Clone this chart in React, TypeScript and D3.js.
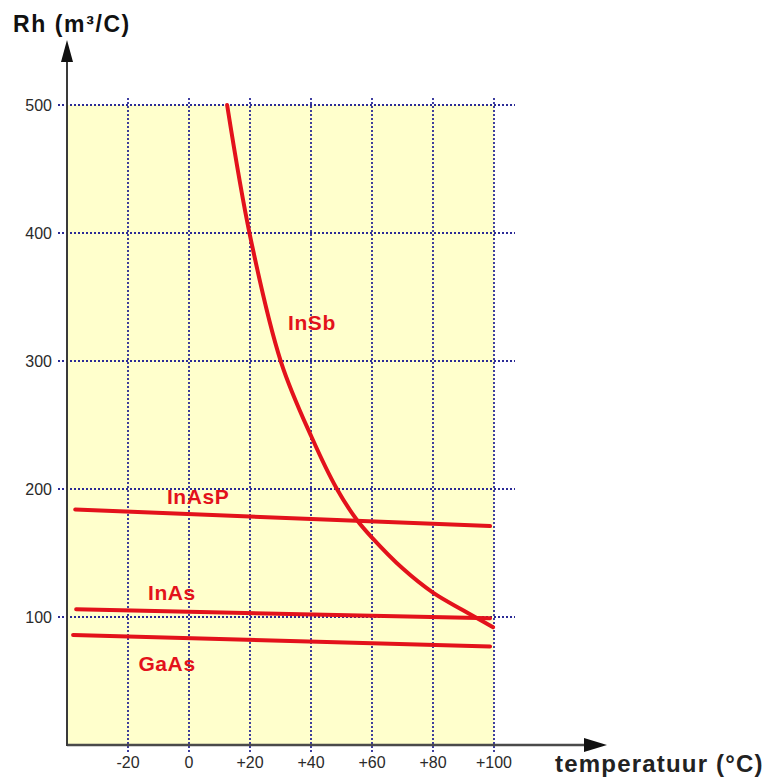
import React from "react";
import * as d3 from "d3";

const xTicks = [-20, 0, 20, 40, 60, 80, 100];
const xTickLabels = ["-20", "0", "+20", "+40", "+60", "+80", "+100"];
const yTicks = [100, 200, 300, 400, 500];
const yTickLabels = ["100", "200", "300", "400", "500"];

const insbT = [12.5, 20, 30.2, 40.3, 48.5, 55, 60, 70, 80, 90, 99.7];
const insbR = [500, 398, 299, 240, 200, 176, 162, 138, 119, 105, 92];
const inaspT = [-37.3, 98.7];
const inaspR = [184, 171];
const inasT = [-37, 98.7];
const inasR = [106, 99];
const gaasT = [-38, 98.7];
const gaasR = [86, 77];

const seriesNames = ["InSb", "InAsP", "InAs", "GaAs"];
const labelT = [40.3, 3, -5.6, -7.2];
const labelR = [330, 194, 119, 64];

export default function App() {
  const W = 770, H = 780;
  const x = d3.scaleLinear().domain([-40, 100]).range([67, 494]);
  const y = d3.scaleLinear().domain([0, 500]).range([745, 105]);
  const red = "#e3121b";
  const grid = "#2b2b96";
  const line = d3
    .line<[number, number]>()
    .x((d) => x(d[0]))
    .y((d) => y(d[1]));
  const smooth = d3
    .line<[number, number]>()
    .x((d) => x(d[0]))
    .y((d) => y(d[1]))
    .curve(d3.curveCatmullRom.alpha(0.5));
  const zip = (a: number[], b: number[]) => a.map((v, i) => [v, b[i]] as [number, number]);
  const straight = [zip(inaspT, inaspR), zip(inasT, inasR), zip(gaasT, gaasR)];
  const font = "'Liberation Sans', Arial, sans-serif";

  return (
    <svg
      width={W}
      height={H}
      style={{ position: "absolute", left: 0, top: 0, display: "block", background: "#fff" }}
    >
      <rect x={x(-40)} y={y(500)} width={x(100) - x(-40)} height={y(0) - y(500)} fill="#ffffcc" />
      {yTicks.map((t) => (
        <line key={"h" + t} x1={58} x2={515} y1={y(t)} y2={y(t)} stroke={grid} strokeWidth={1.8} strokeDasharray="2,2" />
      ))}
      {xTicks.map((t) => (
        <line key={"v" + t} x1={x(t)} x2={x(t)} y1={98} y2={753} stroke={grid} strokeWidth={1.8} strokeDasharray="2,2" />
      ))}
      {/* axes */}
      <line x1={x(-40)} x2={595} y1={y(0)} y2={y(0)} stroke="#4a4a4a" strokeWidth={2.5} />
      <line x1={x(-40)} x2={x(-40)} y1={y(0) + 1} y2={55} stroke="#3a3a3a" strokeWidth={2} />
      <path d={`M${x(-40)},40 L${x(-40) - 6},62 L${x(-40) + 6},62 Z`} fill="#111" />
      <path d={`M607,${y(0)} L584,${y(0) - 7} L584,${y(0) + 7} Z`} fill="#111" />
      {yTicks.map((t, i) => (
        <text key={"yl" + t} x={52} y={y(t)} textAnchor="end" dominantBaseline="central" fontFamily={font} fontSize={16} fill="#2a2a2a">
          {yTickLabels[i]}
        </text>
      ))}
      {xTicks.map((t, i) => (
        <text key={"xl" + t} x={x(t)} y={762} textAnchor="middle" dominantBaseline="central" fontFamily={font} fontSize={16} fill="#2a2a2a">
          {xTickLabels[i]}
        </text>
      ))}
      <text x={13} y={32} fontFamily={font} fontSize={23} fontWeight="bold" fill="#111" letterSpacing={1.6}>
        Rh (m³/C)
      </text>
      <text x={555} y={772} fontFamily={font} fontSize={24} fontWeight="bold" fill="#222" letterSpacing={1.2}>
        temperatuur (°C)
      </text>
      {/* curves */}
      <path d={smooth(zip(insbT, insbR)) || ""} fill="none" stroke={red} strokeWidth={4} strokeLinecap="round" />
      {straight.map((s, i) => (
        <path key={"s" + i} d={line(s) || ""} fill="none" stroke={red} strokeWidth={4} strokeLinecap="round" />
      ))}
      {seriesNames.map((n, i) => (
        <text key={n} x={x(labelT[i])} y={y(labelR[i])} textAnchor="middle" dominantBaseline="central" fontFamily={font} fontSize={21} fontWeight="bold" fill={red} letterSpacing={0.6}>
          {n}
        </text>
      ))}
    </svg>
  );
}
